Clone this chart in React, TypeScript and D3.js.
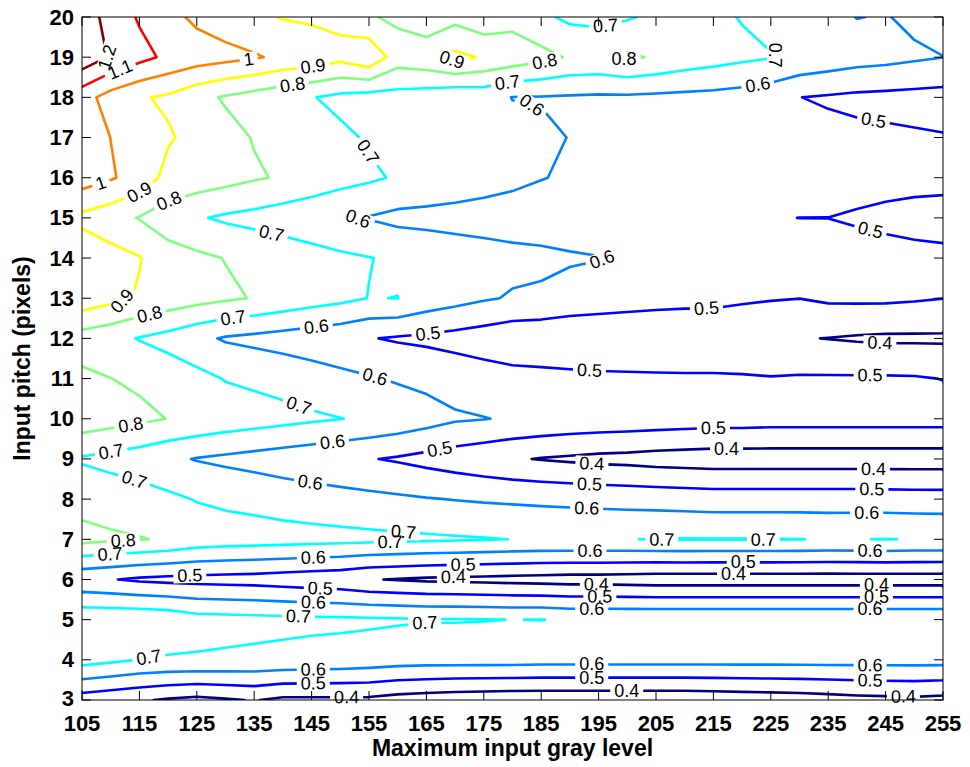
import React from "react";
import * as d3 from "d3";

// Grid of the measured surface: maximum input gray level (columns) by input pitch (rows)
const grayLevels = [
  105, 110, 115, 120, 125, 130, 135, 140, 145, 150, 155, 160, 165, 170, 175, 180,
  185, 190, 195, 200, 205, 210, 215, 220, 225, 230, 235, 240, 245, 250, 255,
];
const pitches = [3, 4, 5, 6, 7, 8, 9, 10, 11, 12, 13, 14, 15, 16, 17, 18, 19, 20];

const p03 = [0.45, 0.43, 0.41, 0.39, 0.375, 0.39, 0.405, 0.38, 0.38, 0.38, 0.38, 0.36, 0.35, 0.34, 0.335, 0.33, 0.33, 0.33, 0.33, 0.33, 0.33, 0.33, 0.335, 0.34, 0.345, 0.35, 0.36, 0.37, 0.375, 0.38, 0.37];
const p04 = [0.74, 0.72, 0.698, 0.69, 0.69, 0.685, 0.68, 0.675, 0.67, 0.665, 0.655, 0.645, 0.64, 0.64, 0.64, 0.64, 0.635, 0.635, 0.635, 0.635, 0.635, 0.635, 0.635, 0.635, 0.635, 0.635, 0.635, 0.635, 0.635, 0.635, 0.635];
const p05 = [0.78, 0.78, 0.78, 0.77, 0.74, 0.735, 0.73, 0.725, 0.72, 0.718, 0.715, 0.71, 0.705, 0.705, 0.703, 0.699, 0.7015, 0.69, 0.69, 0.69, 0.69, 0.69, 0.69, 0.69, 0.69, 0.69, 0.69, 0.69, 0.69, 0.69, 0.69];
const p06 = [0.52, 0.505, 0.485, 0.475, 0.47, 0.465, 0.46, 0.45, 0.44, 0.43, 0.405, 0.395, 0.385, 0.38, 0.375, 0.37, 0.365, 0.36, 0.36, 0.355, 0.35, 0.35, 0.35, 0.35, 0.35, 0.35, 0.35, 0.35, 0.35, 0.35, 0.35];
const p07 = [0.83, 0.815, 0.805, 0.79, 0.76, 0.75, 0.745, 0.74, 0.735, 0.73, 0.725, 0.72, 0.715, 0.71, 0.705, 0.699, 0.695, 0.695, 0.695, 0.698, 0.703, 0.704, 0.703, 0.703, 0.703, 0.701, 0.696, 0.698, 0.702, 0.697, 0.695];
const p08 = [0.767, 0.755, 0.74, 0.72, 0.695, 0.68, 0.67, 0.655, 0.645, 0.635, 0.625, 0.615, 0.605, 0.597, 0.59, 0.585, 0.58, 0.575, 0.57, 0.565, 0.56, 0.555, 0.55, 0.55, 0.55, 0.55, 0.55, 0.55, 0.548, 0.546, 0.545];
const p09 = [0.69, 0.67, 0.65, 0.62, 0.595, 0.58, 0.565, 0.55, 0.535, 0.52, 0.505, 0.49, 0.47, 0.45, 0.43, 0.41, 0.395, 0.385, 0.375, 0.37, 0.36, 0.355, 0.35, 0.35, 0.35, 0.35, 0.35, 0.35, 0.35, 0.35, 0.35];
const p10 = [0.86, 0.84, 0.82, 0.798, 0.78, 0.76, 0.745, 0.73, 0.715, 0.702, 0.685, 0.665, 0.64, 0.612, 0.603, 0.59, 0.58, 0.57, 0.565, 0.56, 0.555, 0.55, 0.545, 0.545, 0.54, 0.54, 0.54, 0.54, 0.54, 0.54, 0.54];
const p11 = [0.82, 0.801, 0.785, 0.76, 0.73, 0.695, 0.68, 0.665, 0.645, 0.625, 0.608, 0.59, 0.575, 0.56, 0.545, 0.535, 0.53, 0.525, 0.52, 0.518, 0.515, 0.513, 0.512, 0.51, 0.505, 0.51, 0.51, 0.51, 0.51, 0.508, 0.498];
const p12 = [0.755, 0.73, 0.695, 0.665, 0.625, 0.59, 0.575, 0.56, 0.545, 0.53, 0.505, 0.49, 0.48, 0.466, 0.45, 0.43, 0.425, 0.418, 0.415, 0.413, 0.415, 0.42, 0.425, 0.42, 0.415, 0.405, 0.398, 0.39, 0.385, 0.385, 0.385];
const p13 = [0.965, 0.93, 0.89, 0.86, 0.835, 0.815, 0.795, 0.77, 0.745, 0.725, 0.698, 0.701, 0.66, 0.635, 0.61, 0.592, 0.585, 0.565, 0.555, 0.545, 0.535, 0.528, 0.525, 0.514, 0.506, 0.501, 0.515, 0.517, 0.517, 0.51, 0.501];
const p14 = [0.97, 0.935, 0.905, 0.84, 0.82, 0.797, 0.775, 0.76, 0.74, 0.72, 0.703, 0.685, 0.665, 0.645, 0.635, 0.625, 0.62, 0.61, 0.603, 0.592, 0.575, 0.565, 0.56, 0.555, 0.55, 0.545, 0.54, 0.535, 0.53, 0.525, 0.52];
const p15 = [0.875, 0.84, 0.795, 0.75, 0.71, 0.685, 0.67, 0.65, 0.63, 0.602, 0.595, 0.575, 0.572, 0.57, 0.565, 0.56, 0.555, 0.55, 0.545, 0.54, 0.535, 0.53, 0.525, 0.515, 0.505, 0.4995, 0.4995, 0.49, 0.48, 0.47, 0.466];
const p16 = [1.05, 1.01, 0.96, 0.87, 0.855, 0.835, 0.81, 0.79, 0.765, 0.74, 0.715, 0.69, 0.67, 0.65, 0.635, 0.62, 0.603, 0.59, 0.58, 0.575, 0.57, 0.565, 0.56, 0.555, 0.55, 0.545, 0.54, 0.535, 0.53, 0.528, 0.526];
const p17 = [1.06, 0.999, 0.95, 0.91, 0.87, 0.83, 0.795, 0.77, 0.745, 0.72, 0.69, 0.675, 0.66, 0.645, 0.635, 0.625, 0.615, 0.598, 0.585, 0.575, 0.57, 0.565, 0.56, 0.55, 0.545, 0.535, 0.525, 0.52, 0.515, 0.51, 0.505];
const p18 = [1.04, 0.96, 0.91, 0.885, 0.83, 0.79, 0.76, 0.73, 0.705, 0.675, 0.66, 0.662, 0.65, 0.625, 0.635, 0.598, 0.595, 0.59, 0.585, 0.585, 0.58, 0.575, 0.57, 0.56, 0.54, 0.501, 0.49, 0.48, 0.475, 0.47, 0.465];
const p19 = [1.27, 1.19, 1.13, 1.08, 1.05, 1.03, 1.01, 0.98, 0.96, 0.93, 0.98, 0.85, 0.87, 0.925, 0.89, 0.86, 0.83, 0.79, 0.785, 0.815, 0.79, 0.76, 0.74, 0.72, 0.705, 0.68, 0.66, 0.64, 0.63, 0.615, 0.601];
const p20 = [1.26, 1.16, 1.09, 1.03, 0.98, 0.95, 0.92, 0.895, 0.885, 0.875, 0.81, 0.78, 0.73, 0.77, 0.73, 0.765, 0.72, 0.68, 0.67, 0.69, 0.72, 0.73, 0.72, 0.695, 0.67, 0.65, 0.63, 0.598, 0.605, 0.58, 0.57];

const rows = [p03, p04, p05, p06, p07, p08, p09, p10, p11, p12, p13, p14, p15, p16, p17, p18, p19, p20];

const levels = [0.4, 0.5, 0.6, 0.7, 0.8, 0.9, 1.0, 1.1, 1.2];

const xTicks = [105, 115, 125, 135, 145, 155, 165, 175, 185, 195, 205, 215, 225, 235, 245, 255];
const yTicks = [3, 4, 5, 6, 7, 8, 9, 10, 11, 12, 13, 14, 15, 16, 17, 18, 19, 20];

// Inline contour labels: [level, gray level, pitch]
const labelAnchors: [number, number, number][] = [
  [1.2, 109.9, 18.99], [1.1, 111.6, 18.71], [1.0, 134, 19.0], [0.9, 145.3, 18.73],
  [0.8, 141.8, 18.18], [1.0, 108.4, 15.82], [0.9, 169.4, 18.9], [0.8, 185.8, 18.78],
  [0.8, 199.3, 18.84], [0.7, 179.3, 18.22], [0.6, 183, 17.6], [0.7, 154.3, 16.6],
  [0.7, 196.1, 19.84], [0.7, 226, 19.1], [0.6, 222.8, 18.26], [0.5, 242.9, 17.43],
  [0.9, 115.1, 15.6], [0.8, 120.3, 15.36], [0.7, 137.75, 14.45], [0.9, 112.2, 12.83],
  [0.8, 116.8, 12.58], [0.7, 131.4, 12.41], [0.6, 145.9, 12.21], [0.6, 153.1, 14.99],
  [0.6, 195.8, 13.87], [0.5, 165.3, 12.08], [0.5, 242.3, 14.66], [0.5, 213.8, 12.75],
  [0.4, 244, 11.88], [0.7, 142.7, 10.3], [0.8, 113.7, 9.68], [0.7, 110.2, 9.06],
  [0.7, 113.9, 8.39], [0.6, 148.7, 9.35], [0.6, 144.7, 8.35], [0.5, 193.4, 11.17],
  [0.6, 155.9, 10.96], [0.5, 167.4, 9.18], [0.4, 193.8, 8.81], [0.5, 193.4, 8.31],
  [0.6, 192.9, 7.69], [0.5, 242.3, 11.0], [0.5, 215, 9.8], [0.4, 217.3, 9.3],
  [0.4, 242.9, 8.6], [0.5, 242.6, 8.14], [0.6, 241.7, 7.6], [0.8, 112.2, 6.9],
  [0.7, 109.9, 6.61], [0.5, 123.8, 6.07], [0.6, 145.3, 6.53], [0.5, 146.5, 5.7],
  [0.6, 145.3, 5.36], [0.7, 142.7, 5.03], [0.7, 116.8, 3.91], [0.6, 145.3, 3.7],
  [0.5, 145.3, 3.33], [0.4, 151.1, 3.08], [0.7, 161, 7.19], [0.7, 158.7, 6.82],
  [0.6, 193.5, 6.65], [0.5, 171.4, 6.36], [0.4, 169.7, 6.07], [0.4, 194.6, 5.78],
  [0.5, 195.2, 5.49], [0.6, 193.8, 5.24], [0.7, 164.8, 4.82], [0.6, 193.8, 3.83],
  [0.5, 193.8, 3.5], [0.4, 199.9, 3.21], [0.7, 206, 6.97], [0.7, 223.7, 6.97],
  [0.6, 242.3, 6.69], [0.5, 220.2, 6.44], [0.4, 218.5, 6.11], [0.4, 243.4, 5.78],
  [0.5, 243.4, 5.5], [0.6, 242.3, 5.22], [0.6, 242.3, 3.75], [0.5, 242.3, 3.42],
  [0.4, 248.1, 3.08],
];

const W = 970;
const H = 767;
const LEFT = 82;
const RIGHT = 943;
const TOP = 17;
const BOTTOM = 700;
const FONT = "'Liberation Sans', Arial, Helvetica, sans-serif";
const LABEL_SIZE = 18;

function textWidth(s: string, size: number) {
  let w = 0;
  for (const ch of s) w += ch === "." ? 0.278 : 0.556;
  return w * size;
}

export default function App() {
  const x = d3.scaleLinear().domain([105, 255]).range([LEFT, RIGHT]);
  const y = d3.scaleLinear().domain([3, 20]).range([BOTTOM, TOP]);
  const nx = grayLevels.length;
  const ny = pitches.length;
  // contour grid coordinates: sample i sits at i + 0.5
  const gx = d3.scaleLinear().domain([0.5, nx - 0.5]).range([x(grayLevels[0]), x(grayLevels[nx - 1])]);
  const gy = d3.scaleLinear().domain([0.5, ny - 0.5]).range([y(pitches[0]), y(pitches[ny - 1])]);

  const jet = d3
    .scaleLinear<string>()
    .domain([0, 0.125, 0.375, 0.625, 0.875, 1])
    .range(["#000080", "#0000ff", "#00ffff", "#ffff00", "#ff0000", "#800000"]);
  const levelT = d3.scaleLinear().domain([0.4, 1.2]).range([0, 1]);

  const values = rows.flat();
  const iso = d3.contours().size([nx, ny]).thresholds(levels)(values);

  const lines = iso.map((c) => {
    const rings: [number, number][][] = [];
    c.coordinates.forEach((poly) =>
      poly.forEach((ring) => rings.push(ring.map(([a, b]) => [gx(a), gy(b)] as [number, number])))
    );
    return { level: c.value, rings };
  });

  const inside = (p: [number, number]) =>
    p[0] >= LEFT - 0.5 && p[0] <= RIGHT + 0.5 && p[1] >= TOP - 0.5 && p[1] <= BOTTOM + 0.5;

  const labels = labelAnchors.map(([lev, g, p], k) => {
    const li = levels.indexOf(lev);
    const rings = lines[li] ? lines[li].rings : [];
    const px = x(g);
    const py = y(p);
    let best = { d: Infinity, r: -1, i: 0, qx: px, qy: py };
    rings.forEach((r, ri) => {
      for (let i = 0; i < r.length - 1; i++) {
        const a = r[i];
        const b = r[i + 1];
        if (!inside(a) || !inside(b)) continue;
        const dx = b[0] - a[0];
        const dy = b[1] - a[1];
        const L = dx * dx + dy * dy;
        let t = L > 0 ? ((px - a[0]) * dx + (py - a[1]) * dy) / L : 0;
        t = Math.max(0, Math.min(1, t));
        const qx = a[0] + t * dx;
        const qy = a[1] + t * dy;
        const d = (qx - px) ** 2 + (qy - py) ** 2;
        if (d < best.d) best = { d, r: ri, i, qx, qy };
      }
    });
    let angle = 0;
    if (best.r >= 0) {
      const r = rings[best.r];
      // walk along the line both ways to get a local direction
      const reach = 11;
      let back: [number, number] = [best.qx, best.qy];
      let acc = 0;
      let prev: [number, number] = [best.qx, best.qy];
      for (let j = best.i; j >= 0; j--) {
        const q = r[j];
        acc += Math.hypot(q[0] - prev[0], q[1] - prev[1]);
        back = q;
        prev = q;
        if (acc >= reach) break;
      }
      let fwd: [number, number] = [best.qx, best.qy];
      acc = 0;
      prev = [best.qx, best.qy];
      for (let j = best.i + 1; j < r.length; j++) {
        const q = r[j];
        acc += Math.hypot(q[0] - prev[0], q[1] - prev[1]);
        fwd = q;
        prev = q;
        if (acc >= reach) break;
      }
      angle = (Math.atan2(fwd[1] - back[1], fwd[0] - back[0]) * 180) / Math.PI;
      if (angle > 90) angle -= 180;
      if (angle < -90) angle += 180;
    }
    const text = String(lev);
    return { key: k, level: lev, cx: best.qx, cy: best.qy, angle, text, w: textWidth(text, LABEL_SIZE) };
  });

  const ringPath = (rings: [number, number][][]) =>
    rings.map((r) => "M" + r.map((p) => `${p[0].toFixed(2)},${p[1].toFixed(2)}`).join("L") + "Z").join("");

  return (
    <svg
      width={W}
      height={H}
      viewBox={`0 0 ${W} ${H}`}
      style={{ position: "absolute", left: 0, top: 0, background: "#fff" }}
      fontFamily={FONT}
    >
      <defs>
        <clipPath id="plot-area">
          <rect x={LEFT} y={TOP} width={RIGHT - LEFT} height={BOTTOM - TOP} />
        </clipPath>
        {lines.map((ln, li) => (
          <mask key={li} id={`gap-${li}`} maskUnits="userSpaceOnUse" x={0} y={0} width={W} height={H}>
            <rect x={0} y={0} width={W} height={H} fill="#fff" />
            {labels
              .filter((lb) => lb.level === ln.level)
              .map((lb) => (
                <rect
                  key={lb.key}
                  x={-(lb.w + 8) / 2}
                  y={-7.5}
                  width={lb.w + 8}
                  height={15}
                  fill="#000"
                  transform={`translate(${lb.cx},${lb.cy}) rotate(${lb.angle})`}
                />
              ))}
          </mask>
        ))}
      </defs>
      <rect x={0} y={0} width={W} height={H} fill="#fff" />

      <g clipPath="url(#plot-area)">
        {lines.map((ln, li) => (
          <g key={li} mask={`url(#gap-${li})`}>
            <path
              d={ringPath(ln.rings)}
              fill="none"
              stroke={jet(levelT(ln.level))}
              strokeWidth={2.6}
              strokeLinejoin="round"
            />
          </g>
        ))}
      </g>

      {labels.map((lb) => (
        <text
          key={lb.key}
          transform={`translate(${lb.cx},${lb.cy}) rotate(${lb.angle})`}
          textAnchor="middle"
          dominantBaseline="central"
          fontSize={LABEL_SIZE}
          fill="#000"
        >
          {lb.text}
        </text>
      ))}

      {/* axes box */}
      <rect x={LEFT} y={TOP} width={RIGHT - LEFT} height={BOTTOM - TOP} fill="none" stroke="#000" strokeWidth={1} />
      {xTicks.map((t) => (
        <g key={`xt${t}`}>
          <line x1={x(t)} x2={x(t)} y1={BOTTOM} y2={BOTTOM - 9} stroke="#000" />
          <line x1={x(t)} x2={x(t)} y1={TOP} y2={TOP + 9} stroke="#000" />
          <text x={x(t)} y={BOTTOM + 31} textAnchor="middle" fontSize={22} fontWeight="bold" fill="#000">
            {t}
          </text>
        </g>
      ))}
      {yTicks.map((t) => (
        <g key={`yt${t}`}>
          <line x1={LEFT} x2={LEFT + 9} y1={y(t)} y2={y(t)} stroke="#000" />
          <line x1={RIGHT} x2={RIGHT - 9} y1={y(t)} y2={y(t)} stroke="#000" />
          <text
            x={LEFT - 8}
            y={y(t) - (t === 3 ? 2 : 0)}
            textAnchor="end"
            dominantBaseline="central"
            fontSize={22}
            fontWeight="bold"
            fill="#000"
          >
            {t}
          </text>
        </g>
      ))}
      <text x={(LEFT + RIGHT) / 2} y={756} textAnchor="middle" fontSize={23} fontWeight="bold" fill="#000">
        Maximum input gray level
      </text>
      <text
        transform={`translate(30,${(TOP + BOTTOM) / 2}) rotate(-90)`}
        textAnchor="middle"
        fontSize={23}
        fontWeight="bold"
        fill="#000"
      >
        Input pitch (pixels)
      </text>
    </svg>
  );
}
